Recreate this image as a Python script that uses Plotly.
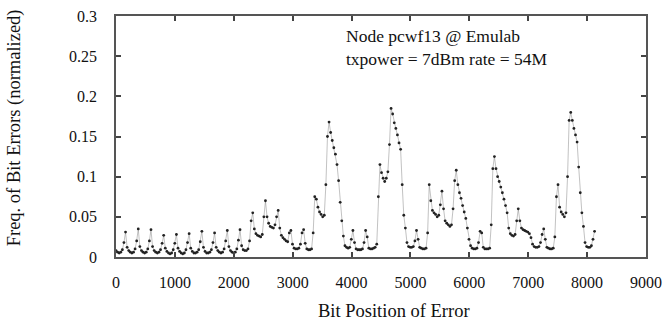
import plotly.graph_objects as go

# Bit positions sampled every 27 bits (8 samples per 216-bit OFDM symbol)
step = 27

# normalized error frequency, one list per region of the packet
freq_0_2159 = [
    0.008, 0.006, 0.005, 0.006, 0.009, 0.018, 0.031, 0.012,
    0.008, 0.006, 0.005, 0.006, 0.010, 0.020, 0.035, 0.013,
    0.008, 0.006, 0.005, 0.006, 0.010, 0.020, 0.034, 0.013,
    0.008, 0.006, 0.005, 0.006, 0.009, 0.017, 0.027, 0.011,
    0.007, 0.005, 0.004, 0.005, 0.009, 0.017, 0.028, 0.011,
    0.007, 0.005, 0.004, 0.005, 0.009, 0.018, 0.029, 0.011,
    0.007, 0.005, 0.005, 0.006, 0.009, 0.019, 0.032, 0.012,
    0.007, 0.005, 0.005, 0.006, 0.009, 0.018, 0.030, 0.012,
    0.008, 0.006, 0.005, 0.006, 0.010, 0.020, 0.033, 0.013,
    0.008, 0.006, 0.005, 0.006, 0.010, 0.021, 0.034, 0.014,
]
freq_2160_4319 = [
    0.009, 0.008, 0.008, 0.010, 0.020, 0.045, 0.055, 0.035,
    0.029, 0.027, 0.026, 0.025, 0.028, 0.050, 0.070, 0.050,
    0.042, 0.038, 0.037, 0.036, 0.040, 0.050, 0.058, 0.036,
    0.027, 0.024, 0.022, 0.020, 0.019, 0.030, 0.033, 0.016,
    0.011, 0.010, 0.010, 0.011, 0.016, 0.030, 0.034, 0.017,
    0.010, 0.009, 0.009, 0.010, 0.030, 0.075, 0.072, 0.062,
    0.056, 0.053, 0.050, 0.052, 0.090, 0.150, 0.168, 0.155,
    0.145, 0.136, 0.128, 0.115, 0.095, 0.068, 0.045, 0.026,
    0.014, 0.012, 0.011, 0.012, 0.022, 0.033, 0.018, 0.010,
    0.009, 0.009, 0.009, 0.010, 0.018, 0.033, 0.025, 0.011,
]
freq_4320_6479 = [
    0.010, 0.010, 0.011, 0.012, 0.016, 0.075, 0.115, 0.105,
    0.098, 0.094, 0.098, 0.106, 0.140, 0.185, 0.178, 0.167,
    0.160, 0.152, 0.142, 0.134, 0.090, 0.052, 0.036, 0.018,
    0.013, 0.012, 0.012, 0.013, 0.020, 0.033, 0.022, 0.012,
    0.011, 0.010, 0.010, 0.011, 0.030, 0.090, 0.070, 0.058,
    0.055, 0.053, 0.050, 0.052, 0.065, 0.082, 0.060, 0.045,
    0.042, 0.040, 0.038, 0.040, 0.060, 0.095, 0.108, 0.090,
    0.080, 0.073, 0.064, 0.056, 0.048, 0.036, 0.022, 0.014,
    0.011, 0.010, 0.010, 0.011, 0.018, 0.032, 0.030, 0.012,
    0.010, 0.010, 0.010, 0.011, 0.040, 0.110, 0.125, 0.110,
]
freq_6480_8127 = [
    0.100, 0.094, 0.087, 0.080, 0.072, 0.064, 0.055, 0.036,
    0.029, 0.027, 0.026, 0.028, 0.045, 0.060, 0.045, 0.036,
    0.034, 0.033, 0.032, 0.031, 0.029, 0.024, 0.016, 0.013,
    0.012, 0.012, 0.013, 0.018, 0.028, 0.035, 0.022, 0.012,
    0.011, 0.010, 0.010, 0.011, 0.025, 0.075, 0.090, 0.062,
    0.056, 0.053, 0.050, 0.055, 0.100, 0.170, 0.180, 0.170,
    0.160, 0.152, 0.143, 0.112, 0.080, 0.055, 0.038, 0.018,
    0.013, 0.012, 0.012, 0.014, 0.022, 0.032,
]

freq = freq_0_2159 + freq_2160_4319 + freq_4320_6479 + freq_6480_8127
bits = [i * step for i in range(len(freq))]

x_ticks = [0, 1000, 2000, 3000, 4000, 5000, 6000, 7000, 8000, 9000]
y_ticks = [0, 0.05, 0.1, 0.15, 0.2, 0.25, 0.3]
y_tick_text = ["0", "0.05", "0.1", "0.15", "0.2", "0.25", "0.3"]

font = "Liberation Serif"
ink = "#111111"

fig = go.Figure()
fig.add_trace(go.Scatter(
    x=bits, y=freq, mode="lines+markers",
    line=dict(color="rgba(120,120,120,0.45)", width=1),
    marker=dict(size=2.8, color="#222222"),
    showlegend=False,
))

axis_common = dict(
    showgrid=False, zeroline=False, showline=True, linecolor="#555555",
    linewidth=1.5, mirror="ticks", ticks="inside", ticklen=5,
    tickcolor="#444444", tickwidth=1.5,
    tickfont=dict(family=font, size=16, color=ink),
    automargin=False,
)

fig.update_xaxes(range=[0, 9000], tickvals=x_ticks, ticklabelstandoff=10, **axis_common)
fig.update_yaxes(range=[0, 0.3], tickvals=y_ticks, ticktext=y_tick_text,
                 ticklabelstandoff=14, **axis_common)

# axis titles (placed to match the reference)
fig.add_annotation(
    x=0.525, y=-0.224, xref="paper", yref="paper", xanchor="center", yanchor="middle",
    text="Bit Position of Error", showarrow=False,
    font=dict(family=font, size=18.5, color=ink),
)
fig.add_annotation(
    x=-0.192, y=0.535, xref="paper", yref="paper", xanchor="center", yanchor="middle",
    text="Freq. of Bit Errors (normalized)", showarrow=False, textangle=-90,
    font=dict(family=font, size=18.5, color=ink),
)

fig.add_annotation(
    x=0.43, y=0.965, xref="paper", yref="paper", xanchor="left", yanchor="top",
    text="Node pcwf13 @ Emulab<br>txpower = 7dBm rate = 54M",
    showarrow=False, align="left",
    font=dict(family=font, size=17.5, color=ink),
)

fig.update_layout(
    width=670, height=325,
    margin=dict(l=116, r=24, t=16, b=68),
    plot_bgcolor="white", paper_bgcolor="white",
)

fig.write_html("out.html")
